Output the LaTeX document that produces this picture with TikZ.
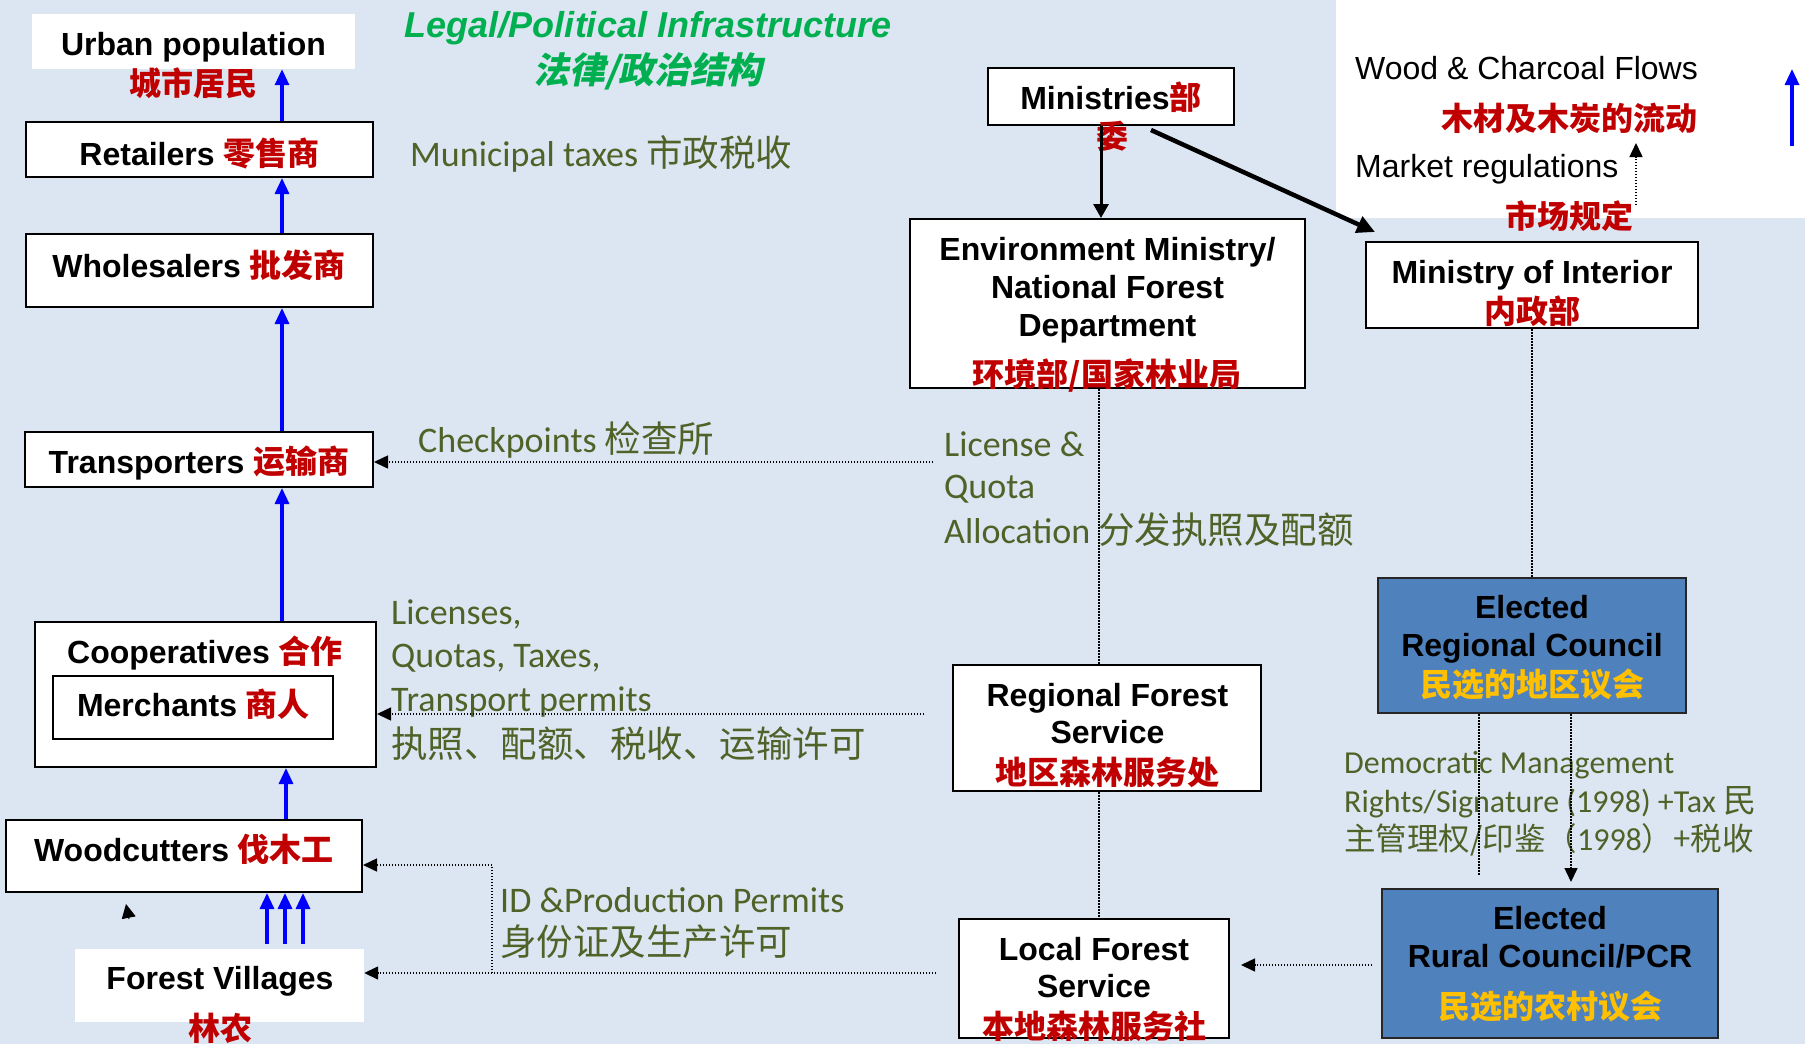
\documentclass[tikz,border=0pt]{standalone}
\usepackage{fontspec}
\usetikzlibrary{arrows.meta,calc}
\setmainfont{Liberation Sans}
\newfontfamily\calfont{Carlito}
\newfontfamily\zhfont{Noto Sans CJK SC}
\newfontfamily\zhslant{Noto Sans CJK SC}[FakeSlant=0.2]
\definecolor{bgblue}{HTML}{DCE6F2}
\definecolor{olivetxt}{HTML}{4F6228}
\definecolor{titlegreen}{HTML}{00B050}
\definecolor{cnred}{HTML}{C00000}
\definecolor{boxblue}{HTML}{4F81BD}
\definecolor{cnyellow}{HTML}{FFC000}
\definecolor{flowblue}{HTML}{0000FF}
\newcommand\rz[1]{{\zhfont\bfseries\color{cnred}#1}}
\newcommand\yz[1]{{\zhfont\bfseries\color{cnyellow}#1}}
\newcommand\gz[1]{{\zhfont\fontsize{36.5}{43}\selectfont #1}}
\newcommand\gzs[1]{{\zhfont\fontsize{33}{39}\selectfont #1}}
\newcommand\gzt[1]{{\zhfont\fontsize{31.5}{38}\selectfont #1}}
\begin{document}
\begin{tikzpicture}[x=1pt,y=-1pt,
  boxw/.style={draw=black,line width=2pt,fill=white,inner sep=0pt},
  boxb/.style={draw=black!85,line width=2pt,fill=boxblue,inner sep=0pt},
  plainw/.style={fill=white,inner sep=0pt},
  lbl/.style={anchor=base,inner sep=0pt,font=\fontsize{32}{38}\selectfont\bfseries},
  ann/.style={anchor=base west,inner sep=0pt,text=olivetxt,font=\fontsize{36}{43}\selectfont\calfont},
  anns/.style={anchor=base west,inner sep=0pt,text=olivetxt,font=\fontsize{32}{38}\selectfont\calfont},
  flow/.style={draw=flowblue,line width=3.2pt,-{Triangle[length=16pt,width=14pt]}},
  dotln/.style={draw=black,line width=1.5pt,dash pattern=on 1.5pt off 1.5pt},
  dotarr/.style={dotln,-{Triangle[length=14pt,width=13pt]}},
  heavy/.style={draw=black,line width=3pt,-{Triangle[length=14pt,width=15pt]}},
  heavier/.style={draw=black,line width=4.5pt,-{Triangle[length=18pt,width=17pt]}}
]
\useasboundingbox (0,0) rectangle (1805,1044);
\fill[bgblue] (0,0) rectangle (1805,1044);
% legend area
\fill[white] (1336,0) rectangle (1805,218);

% ---------- boxes ----------
\node[plainw,minimum width=323,minimum height=55] (urb) at (193.5,41.5) {};
\node[boxw,minimum width=347,minimum height=55] (ret) at (199.5,149.5) {};
\node[boxw,minimum width=347,minimum height=73] (who) at (199.5,270.5) {};
\node[boxw,minimum width=348,minimum height=55] (tra) at (199,459.5) {};
\node[boxw,minimum width=341,minimum height=145] (coo) at (205.5,694.5) {};
\node[boxw,minimum width=280,minimum height=63] (mer) at (193,707.5) {};
\node[boxw,minimum width=356,minimum height=72] (woo) at (184,856) {};
\node[plainw,minimum width=289,minimum height=73] (fov) at (219.5,985.5) {};
\node[boxw,minimum width=246,minimum height=57] (min) at (1111,96.5) {};
\node[boxw,minimum width=395,minimum height=169] (env) at (1107.5,303.5) {};
\node[boxw,minimum width=332,minimum height=86] (int) at (1532,285) {};
\node[boxb,minimum width=308,minimum height=135] (erc) at (1532,645.5) {};
\node[boxw,minimum width=308,minimum height=126] (rfs) at (1107,728) {};
\node[boxw,minimum width=270,minimum height=119] (lfs) at (1094,978.5) {};
\node[boxb,minimum width=336,minimum height=149] (rur) at (1550,963.5) {};

% ---------- box texts ----------
\node[lbl] (urbT) at (193.5,55) {Urban population};
\node[lbl] (urbZ) at (193,95) {\rz{城市居民}};
\node[lbl] (retT) at (199.5,165) {Retailers \rz{零售商}};
\node[lbl] (whoT) at (199,277) {Wholesalers \rz{批发商}};
\node[lbl] (traT) at (199,473) {Transporters \rz{运输商}};
\node[lbl] (cooT) at (205,663) {Cooperatives \rz{合作}};
\node[lbl] (merT) at (193.5,716) {Merchants \rz{商人}};
\node[lbl] (wooT) at (184,861) {Woodcutters \rz{伐木工}};
\node[lbl] (fovT) at (220,989) {Forest Villages};
\node[lbl] (fovZ) at (220,1040) {\rz{林农}};
\node[lbl] (minT) at (1111,109) {Ministries\rz{部}};
\node[lbl] (minZ) at (1112,148) {\rz{委}};
\node[lbl] (envT1) at (1107.5,260) {Environment Ministry/};
\node[lbl] (envT2) at (1107.5,298) {National Forest};
\node[lbl] (envT3) at (1107.5,336) {Department};
\node[lbl] (envZ) at (1107,386) {\rz{环境部/国家林业局}};
\node[lbl] (intT) at (1532,283) {Ministry of Interior};
\node[lbl] (intZ) at (1532,323) {\rz{内政部}};
\node[lbl] (ercT1) at (1532,618) {Elected};
\node[lbl] (ercT2) at (1532,656) {Regional Council};
\node[lbl] (ercZ) at (1532,696) {\yz{民选的地区议会}};
\node[lbl] (rfsT1) at (1107.5,706) {Regional Forest};
\node[lbl] (rfsT2) at (1107.5,743) {Service};
\node[lbl] (rfsZ) at (1107.5,784) {\rz{地区森林服务处}};
\node[lbl] (lfsT1) at (1094,960) {Local Forest};
\node[lbl] (lfsT2) at (1094,997) {Service};
\node[lbl] (lfsZ) at (1094,1038) {\rz{本地森林服务社}};
\node[lbl] (rurT1) at (1550,929) {Elected};
\node[lbl] (rurT2) at (1550,967) {Rural Council/PCR};
\node[lbl] (rurZ) at (1550,1018) {\yz{民选的农村议会}};

% ---------- title ----------
\node[anchor=base,inner sep=0pt,text=titlegreen,font=\fontsize{36}{43}\selectfont\bfseries\itshape] (titT) at (648,37) {Legal/Political Infrastructure};
\node[anchor=base,inner sep=0pt,text=titlegreen,font=\fontsize{36}{43}\selectfont\zhslant\bfseries] (titZ) at (648,83) {法律/政治结构};

% ---------- legend ----------
\node[anchor=base west,inner sep=0pt,font=\fontsize{32}{38}\selectfont] (legT1) at (1355,79) {Wood \& Charcoal Flows};
\node[lbl] (legZ1) at (1569,130) {\rz{木材及木炭的流动}};
\node[anchor=base west,inner sep=0pt,font=\fontsize{32}{38}\selectfont] (legT2) at (1355,177) {Market regulations};
\node[lbl] (legZ2) at (1569.5,228) {\rz{市场规定}};
\coordinate (mr1) at (1636,205);
\coordinate (mr2) at (1636,143);
\draw[dotarr] (mr1) -- (mr2);
\coordinate (lg1) at (1792,146);
\coordinate (lg2) at (1792,69);
\draw[flow] (lg1) -- (lg2);

% ---------- annotations ----------
\node[ann] (munT) at (410,166) {Municipal taxes \gz{市政税收}};
\node[ann] (chkT) at (418,452) {Checkpoints \gz{检查所}};
\node[ann] (licA) at (944,456) {License \&};
\node[ann] (licB) at (944,498) {Quota};
\node[ann] (licC) at (944,543) {Allocation \gz{分发执照及配额}};
\node[ann] (lqA) at (391,624) {Licenses,};
\node[ann] (lqB) at (391,667) {Quotas, Taxes,};
\node[ann] (lqC) at (391,711) {Transport permits};
\node[ann] (lqZ) at (391,757) {\gz{执照、配额、税收、运输许可}};
\node[ann] (idA) at (500,912) {ID \&Production Permits};
\node[ann] (idZ) at (500,955) {\gz{身份证及生产许可}};
\node[anns] (demA) at (1344,773) {Democratic Management};
\node[anns] (demB) at (1344,812) {Rights/Signature (1998) +Tax \gzs{民}};
\node[anns] (demZ) at (1344,850) {\gzt{主管理权/印鉴（}1998\gzt{）+税收}};

% ---------- wood flows (blue) ----------
\coordinate (fx) at (282,0);
\coordinate (fx2) at (286,0);
\draw[flow] (ret.north -| fx) -- (urb.south -| fx);
\draw[flow] (who.north -| fx) -- (ret.south -| fx);
\draw[flow] (tra.north -| fx) -- (who.south -| fx);
\draw[flow] (coo.north -| fx) -- (tra.south -| fx);
\draw[flow] (woo.north -| fx2) -- (coo.south -| fx2);
\foreach \xx/\nm in {267/a,285/b,303/c}{
  \coordinate (fv\nm) at (\xx,944);
  \draw[flow] (fv\nm) -- (woo.south -| fv\nm);
}

% ---------- ministries ----------
\coordinate (mx) at (1101,0);
\draw[heavy] (min.south -| mx) -- (env.north -| mx);
\draw[heavier] ($(min.south)+(40,4)$) -- ($(int.north west)+(10,-9)$);

% ---------- dotted links ----------
\coordinate (dx) at (1099,0);
\draw[dotln] (env.south -| dx) -- (rfs.north -| dx);
\draw[dotln] (rfs.south -| dx) -- (lfs.north -| dx);
\draw[dotln] (int.south) -- (erc.north);
\coordinate (demL) at (1479,875);
\draw[dotln] (erc.south -| demL) -- (demL);
\coordinate (demR) at (1571,0);
\draw[dotarr,shorten >=6pt] (erc.south -| demR) -- (rur.north -| demR);
\coordinate (ry) at (0,965);
\draw[dotarr,shorten <=9pt,shorten >=11pt] (rur.west |- ry) -- (lfs.east |- ry);

\coordinate (chk) at (933,462);
\draw[dotarr] (chk) -- (tra.east |- chk);
\coordinate (lic) at (924,714);
\draw[dotarr] (lic) -- (coo.east |- lic);
\coordinate (idp) at (936,973);
\draw[dotarr] (idp) -- (fov.east |- idp);
\coordinate (idc) at (492,973);
\coordinate (idt) at (492,865);
\draw[dotarr] (idc) -- (idt) -- (woo.east |- idt);

% stray arrow head
\coordinate (st1) at (129,919);
\coordinate (st2) at (126,904);
\draw[draw=black,line width=1pt,-{Triangle[length=14pt,width=14pt]}] (st1) -- (st2);
\end{tikzpicture}
\end{document}
